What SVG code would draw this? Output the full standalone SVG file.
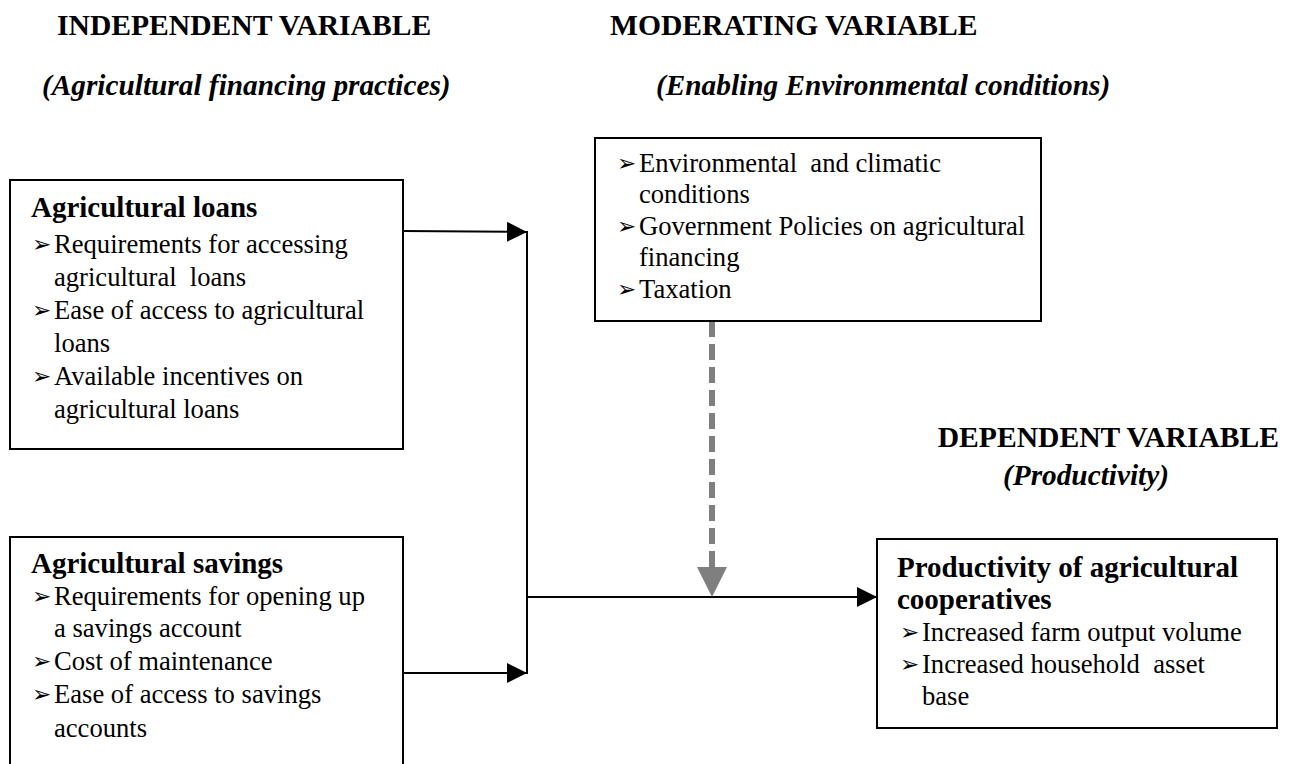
<svg xmlns="http://www.w3.org/2000/svg" width="1301" height="764" viewBox="0 0 1301 764">
<style>
  text { font-family: 'Liberation Serif', 'Times New Roman', serif; fill: #000; white-space: pre; }
  .h { font-size: 29.6px; font-weight: bold; }
  .hi { font-size: 29.3px; font-weight: bold; font-style: italic; }
  .t { font-size: 29px; font-weight: bold; }
  .b { font-size: 26.6px; }
  text.bu { font-family: 'DejaVu Sans', sans-serif; font-size: 23px; }
  .box { fill: #fff; stroke: #000; stroke-width: 2; }
  .ln { fill: none; stroke: #000; stroke-width: 2; }
  .dash { fill: none; stroke: #7f7f7f; stroke-width: 6; stroke-dasharray: 16 7; }
</style>
<defs>
  <marker id="ah" markerWidth="20" markerHeight="20" refX="20" refY="10" orient="auto" markerUnits="userSpaceOnUse">
    <path d="M0,0 L20,10 L0,20 z" fill="#000"/>
  </marker>
</defs>
<rect width="1301" height="764" fill="#fff"/>

<g id="headings">
  <text class="h" x="57" y="35">INDEPENDENT VARIABLE</text>
  <text class="hi" x="42" y="95">(Agricultural financing practices)</text>
  <text class="h" x="610" y="35">MODERATING VARIABLE</text>
  <text class="hi" x="656" y="95">(Enabling Environmental conditions)</text>
  <text class="h" x="1279" y="447" text-anchor="end">DEPENDENT VARIABLE</text>
  <text class="hi" x="1003" y="485">(Productivity)</text>
</g>

<g id="connectors">
  <path class="ln" d="M403,231 L527,232" marker-end="url(#ah)"/>
  <path class="ln" d="M403,673 L527,673" marker-end="url(#ah)"/>
  <path class="ln" d="M527,231 L527,674"/>
  <path class="ln" d="M527,597 L877,597" marker-end="url(#ah)"/>
  <path class="dash" d="M712,321 L712,569"/>
  <path d="M697,567 L727,567 L712,597 z" fill="#7f7f7f"/>
</g>

<g id="node-loans">
  <rect class="box" x="10" y="180" width="393" height="269"/>
  <text class="t" x="31" y="217">Agricultural loans</text>
  <text class="bu" x="32" y="252">➢</text>
  <text class="b" x="54" y="253">Requirements for accessing</text>
  <text class="b" x="54" y="286">agricultural  loans</text>
  <text class="bu" x="32" y="318">➢</text>
  <text class="b" x="54" y="319">Ease of access to agricultural</text>
  <text class="b" x="54" y="352">loans</text>
  <text class="bu" x="32" y="384">➢</text>
  <text class="b" x="54" y="385">Available incentives on</text>
  <text class="b" x="54" y="418">agricultural loans</text>
</g>

<g id="node-savings">
  <rect class="box" x="10" y="537" width="393" height="240"/>
  <text class="t" x="31" y="573">Agricultural savings</text>
  <text class="bu" x="32" y="604">➢</text>
  <text class="b" x="54" y="605">Requirements for opening up</text>
  <text class="b" x="54" y="637">a savings account</text>
  <text class="bu" x="32" y="669">➢</text>
  <text class="b" x="54" y="670">Cost of maintenance</text>
  <text class="bu" x="32" y="702">➢</text>
  <text class="b" x="54" y="703">Ease of access to savings</text>
  <text class="b" x="54" y="737">accounts</text>
</g>

<g id="node-moderating">
  <rect class="box" x="595" y="138" width="446" height="183"/>
  <text class="bu" x="617" y="171">➢</text>
  <text class="b" x="639" y="172">Environmental  and climatic</text>
  <text class="b" x="639" y="203">conditions</text>
  <text class="bu" x="617" y="234">➢</text>
  <text class="b" x="639" y="235">Government Policies on agricultural</text>
  <text class="b" x="639" y="266">financing</text>
  <text class="bu" x="617" y="297">➢</text>
  <text class="b" x="639" y="298">Taxation</text>
</g>

<g id="node-productivity">
  <rect class="box" x="877" y="539" width="400" height="189"/>
  <text class="t" x="897" y="577">Productivity of agricultural</text>
  <text class="t" x="897" y="609">cooperatives</text>
  <text class="bu" x="900" y="640">➢</text>
  <text class="b" x="922" y="641">Increased farm output volume</text>
  <text class="bu" x="900" y="672">➢</text>
  <text class="b" x="922" y="673">Increased household  asset</text>
  <text class="b" x="922" y="705">base</text>
</g>
</svg>
